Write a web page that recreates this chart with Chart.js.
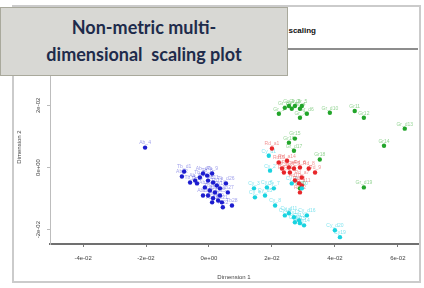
<!DOCTYPE html>
<html>
<head>
<meta charset="utf-8">
<script src="https://cdn.jsdelivr.net/npm/chart.js@4.4.1/dist/chart.umd.min.js"></script>
<style>
  body { margin: 0; width: 424px; height: 288px; background: #fff; position: relative; overflow: hidden; }
  #frame { position: absolute; left: 12px; top: 5px; width: 405px; height: 274px; border: 2px solid #cbcbcb; }
  #headLine { position: absolute; left: 14px; top: 48px; width: 404px; height: 2px; background: #8d8d8d; }
  #plotTitle { position: absolute; right: 108px; top: 26px; font: bold 8px "Liberation Sans", sans-serif; color: #111; white-space: nowrap; }
  #chart { position: absolute; left: 0; top: 0; }
  #caption {
    position: absolute; left: 0; top: 7px; width: 288px; height: 69px; box-sizing: border-box;
    background: #d8d8d4; border: 1px solid #a9a99c; padding-top: 6px;
    text-align: center; font: 700 18px Lato, sans-serif; line-height: 27px; color: #1e2b4b;
  }
</style>
</head>
<body>
<div id="frame"></div>
<div id="headLine"></div>
<div id="plotTitle">Non-metric multidimensional scaling</div>
<canvas id="chart" width="424" height="288"></canvas>
<div id="caption">Non-metric multi-<br>dimensional&nbsp; scaling plot</div>
<script>
// axis ticks
const xTicks = [-0.04, -0.02, 0, 0.02, 0.04, 0.06];
const xTickLabels = ["-4e-02", "-2e-02", "0e+00", "2e-02", "4e-02", "6e-02"];
const yTicks = [-0.02, 0, 0.02];
const yTickLabels = ["-2e-02", "0e+00", "2e-02"];

// NMDS scores per group [dim1, dim2]
const bluePts = [
  [-0.0203, 0.0064], [-0.0079, -0.0013], [-0.0086, -0.0029], [-0.0060, -0.0048], [-0.0044, -0.0042],
  [-0.0029, -0.0032], [-0.0019, -0.0019], [-0.0006, -0.0026], [0.0010, -0.0019], [-0.0003, -0.0042],
  [0.0013, -0.0048], [0.0025, -0.0058], [-0.0013, -0.0064], [0.0003, -0.0074], [0.0019, -0.0080],
  [0.0035, -0.0067], [-0.0019, -0.0090], [-0.0003, -0.0090], [0.0013, -0.0099], [0.0029, -0.0106],
  [0.0041, -0.0112], [0.0044, -0.0128], [0.0010, -0.0112], [-0.0038, -0.0051], [0.0035, -0.0090],
  [0.0054, -0.0051], [0.0060, -0.0080], [0.0073, -0.0122]
];
const blueNames = ["Ab_4", "Tb_d1", "Ab_2", "Tb_3", "Ab_5", "Tb_6", "Ab_d7", "Tb_8", "Ab_9", "Tb10",
  "Ab11", "Tb12", "Ab13", "Tb14", "Ab15", "Tb16", "Ab17", "Tb18", "Ab19", "Tb20",
  "Ab21", "Tb22", "Ab23", "Tb24", "Ab25", "Tb_d26", "Ab27", "Tb28"];

const cyanPts = [
  [0.0190, 0.0038], [0.0194, -0.0010], [0.0143, -0.0067], [0.0146, -0.0096], [0.0178, -0.0090],
  [0.0184, -0.0064], [0.0206, -0.0067], [0.0210, -0.0122], [0.0263, -0.0051], [0.0295, -0.0067],
  [0.0254, -0.0147], [0.0270, -0.0160], [0.0286, -0.0170], [0.0302, -0.0186], [0.0289, -0.0179],
  [0.0311, -0.0154], [0.0273, -0.0176], [0.0241, -0.0154], [0.0416, -0.0224], [0.0400, -0.0202]
];
const cyanNames = ["Cy_d1", "Cy_2", "Cy_3", "Cy_4", "Cy_d5", "Cy_6", "Cy_7", "Cy_8", "Cy_9", "Cy10",
  "Cy_d11", "Cy12", "Cy13", "Cy14", "Cy15", "Cy_d16", "Cy17", "Cy18", "Cy19", "Cy_d20"];

const redPts = [
  [0.0200, 0.0061], [0.0232, -0.0003], [0.0238, -0.0016], [0.0254, 0.0000], [0.0270, -0.0003],
  [0.0289, 0.0000], [0.0295, -0.0032], [0.0317, -0.0003], [0.0337, -0.0016], [0.0273, -0.0042],
  [0.0295, -0.0058], [0.0289, -0.0080], [0.0286, -0.0051], [0.0248, 0.0022], [0.0222, 0.0016],
  [0.0257, -0.0016]
];
const redNames = ["Rd_a1", "Rd_2", "Rd_3", "Rd_a4", "Rd_5", "Rd_6", "Rd_a7", "Rd_8", "Rd_9", "Rd10",
  "Rd_a11", "Rd12", "Rd13", "Rd_a14", "Rd15", "Rd16"];

const greenPts = [
  [0.0222, 0.0173], [0.0241, 0.0192], [0.0263, 0.0189], [0.0289, 0.0189], [0.0295, 0.0198],
  [0.0311, 0.0173], [0.0289, 0.0160], [0.0273, 0.0198], [0.0254, 0.0198], [0.0384, 0.0176],
  [0.0463, 0.0182], [0.0492, 0.0160], [0.0622, 0.0125], [0.0556, 0.0070], [0.0273, 0.0093],
  [0.0254, 0.0080], [0.0270, 0.0054], [0.0352, 0.0026], [0.0492, -0.0064], [0.0289, -0.0067]
];
const greenNames = ["Gr_1", "Gr_d2", "Gr_3", "Gr_4", "Gr_5", "Gr_d6", "Gr_7", "Gr_8", "Gr_9", "Gr_d10",
  "Gr11", "Gr12", "Gr_d13", "Gr14", "Gr15", "Gr16", "Gr_d17", "Gr18", "Gr_d19", "Gr20"];

const toXY = (arr) => arr.map(([x, y]) => ({ x, y }));

// point labels + rotated y tick labels, R style
const textPlugin = {
  id: "rText",
  beforeDatasetsDraw(chart) {
    const ctx = chart.ctx;
    ctx.save();
    ctx.font = '5px "Liberation Sans"';
    ctx.textAlign = "center";
    ctx.textBaseline = "bottom";
    chart.data.datasets.forEach((ds, i) => {
      ctx.fillStyle = ds.textColor;
      chart.getDatasetMeta(i).data.forEach((pt, j) => {
        ctx.fillText(ds.names[j], pt.x, pt.y - 2);
      });
    });
    const ys = chart.scales.y;
    ctx.fillStyle = "#444";
    ctx.font = '6px "Liberation Sans"';
    ctx.textBaseline = "middle";
    yTicks.forEach((v, k) => {
      ctx.save();
      ctx.translate(38, ys.getPixelForValue(v));
      ctx.rotate(-Math.PI / 2);
      ctx.fillText(yTickLabels[k], 0, 0);
      ctx.restore();
    });
    ctx.restore();
  }
};

const mk = (pts, names, color, textColor) => ({
  data: toXY(pts), names, textColor,
  backgroundColor: color, borderWidth: 0, pointRadius: 2.2
});

new Chart(document.getElementById("chart"), {
  type: "scatter",
  data: {
    datasets: [
      mk(bluePts, blueNames, "#1c1ccf", "rgba(40,40,210,0.45)"),
      mk(cyanPts, cyanNames, "#19d3e0", "rgba(25,205,225,0.55)"),
      mk(redPts, redNames, "#e8262a", "rgba(230,40,40,0.5)"),
      mk(greenPts, greenNames, "#22a52a", "rgba(40,170,40,0.5)")
    ]
  },
  options: {
    responsive: false,
    animation: false,
    layout: { padding: { left: 0, right: 6, top: 50, bottom: 0 } },
    plugins: { legend: { display: false }, tooltip: { enabled: false } },
    scales: {
      x: {
        type: "linear", min: -0.0505, max: 0.0664,
        afterBuildTicks: (s) => { s.ticks = xTicks.map((v) => ({ value: v })); },
        afterFit: (s) => { s.height = 44; },
        ticks: { callback: (v, i) => xTickLabels[i], font: { size: 6, family: "Liberation Sans" }, color: "#444", maxRotation: 0, autoSkip: false, padding: 8 },
        grid: { drawOnChartArea: false, tickLength: 3, color: "#777" },
        border: { color: "#707070", width: 2 },
        title: { display: true, text: "Dimension 1", font: { size: 6, family: "Liberation Sans" }, color: "#444", padding: { top: 0, bottom: 7 } }
      },
      y: {
        type: "linear", min: -0.0246, max: 0.0378,
        afterBuildTicks: (s) => { s.ticks = yTicks.map((v) => ({ value: v })); },
        afterFit: (s) => { s.width = 50; },
        ticks: { display: false },
        grid: { drawOnChartArea: false, tickLength: 3, color: "#bbb" },
        border: { color: "#bdbdbd", width: 1 },
        title: { display: true, text: "Dimension 2", font: { size: 6, family: "Liberation Sans" }, color: "#444", padding: { top: 16, bottom: 0 } }
      }
    }
  },
  plugins: [textPlugin]
});
</script>
</body>
</html>
